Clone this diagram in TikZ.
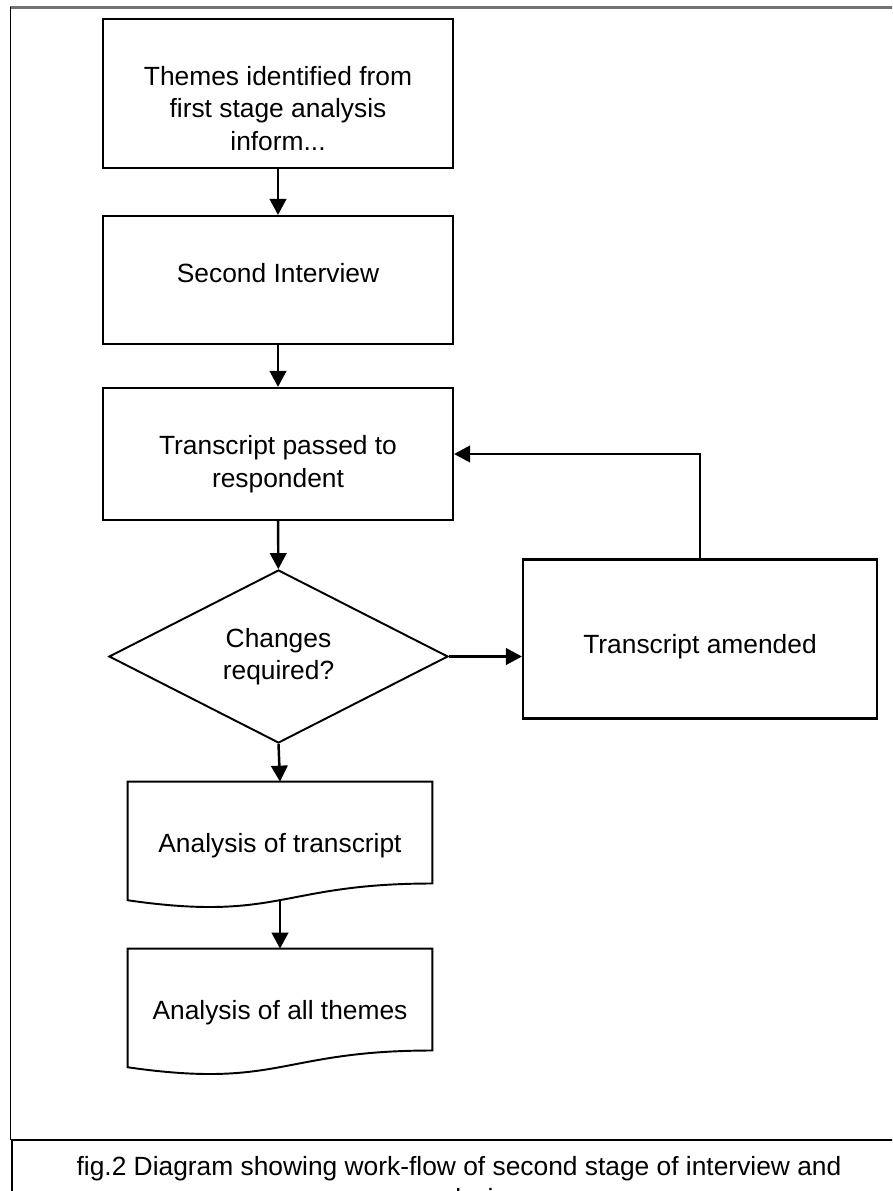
\documentclass[tikz,border=0pt]{standalone}
\usepackage{fontspec}
\setmainfont{Liberation Sans}
\usetikzlibrary{arrows.meta,shapes.geometric,calc}

\begin{document}
\begin{tikzpicture}[
  font=\fontsize{15}{18.5}\selectfont, >={Triangle[length=3.2mm,width=3.3mm]},
  procbox/.style={rectangle, draw, line width=1.2pt, minimum width=7cm},
  boxtext/.style={align=center, inner sep=0pt},
  decide/.style={diamond, draw, line width=1.1pt, align=center, inner sep=0pt,
                 minimum width=6.78cm, minimum height=3.46cm},
  docnode/.style={rectangle, align=center, minimum width=6.08cm, minimum height=2.54cm},
  docline/.style={line width=1.1pt},
  flow/.style={->, line width=1.4pt}]

  \useasboundingbox (0,0) rectangle (17.84,-23.82);
  \clip (0,0) rectangle (17.84,-23.82);

  % page frame and caption box
  \draw[black!55, line width=1.3pt] (0.2,-0.15) -- (17.9,-0.15);
  \draw[line width=0.6pt] (0.206,-0.15) -- (0.206,-22.8);
  \draw[line width=1.2pt] (0.22,-22.8) -- (17.9,-22.8);
  \draw[line width=1.2pt] (0.234,-22.8) -- (0.234,-23.9);
  \node[align=center] (caption) at (9.18,-23.69)
    {fig.2 Diagram showing work-flow of second stage of interview and\\analysis};

  \node[procbox, minimum height=2.98cm] (themes) at (5.56,-1.87) {};
  \node[boxtext] (themesT) at ($(themes)+(0,-0.30)$)
    {Themes identified from\\first stage analysis\\inform...};
  \node[procbox, minimum height=2.56cm] (second) at (5.56,-5.60) {};
  \node[boxtext] (secondT) at ($(second)+(0,0.14)$) {Second Interview};
  \node[procbox, minimum height=2.64cm] (trans) at (5.56,-9.08) {};
  \node[boxtext] (transT) at ($(trans)+(0,-0.20)$) {Transcript passed to\\respondent};
  \node[decide] (change) at (5.57,-13.13) {Changes\\required?};
  \node[procbox, minimum width=7.08cm, minimum height=3.18cm] (amend) at (14.0,-12.78) {};
  \node[boxtext] (amendT) at ($(amend)+(0,-0.16)$) {Transcript amended};
  \node[docnode] (anal1) at (5.6,-16.91) {Analysis of transcript};
  \node[docnode] (anal2) at (5.6,-20.25) {Analysis of all themes};

  % document outlines with wavy bottom
  \foreach \d in {anal1,anal2}
    \draw[docline] (\d.north west) -- (\d.north east) -- ($(\d.north east)+(0,-2.037)$)
      .. controls ($(\d.north)+(0,-2.037)$) and ($(\d.north)+(0,-2.812)$)
      .. ($(\d.north west)+(0,-2.372)$) -- cycle;
  \coordinate (anal1b) at ($(anal1.north)+(0,-2.37)$);

  \draw[flow] (themes) -- (second);
  \draw[flow] (second) -- (trans);
  \draw[flow] (trans) -- (change);
  \draw[flow] (change.east) -- (change.east -| amend.west);
  \draw[flow] (amend.north) |- (trans.east);
  \draw[flow] (change.south) -- (anal1.north);
  \draw[flow] (anal1b) -- (anal2.north);
\end{tikzpicture}
\end{document}
